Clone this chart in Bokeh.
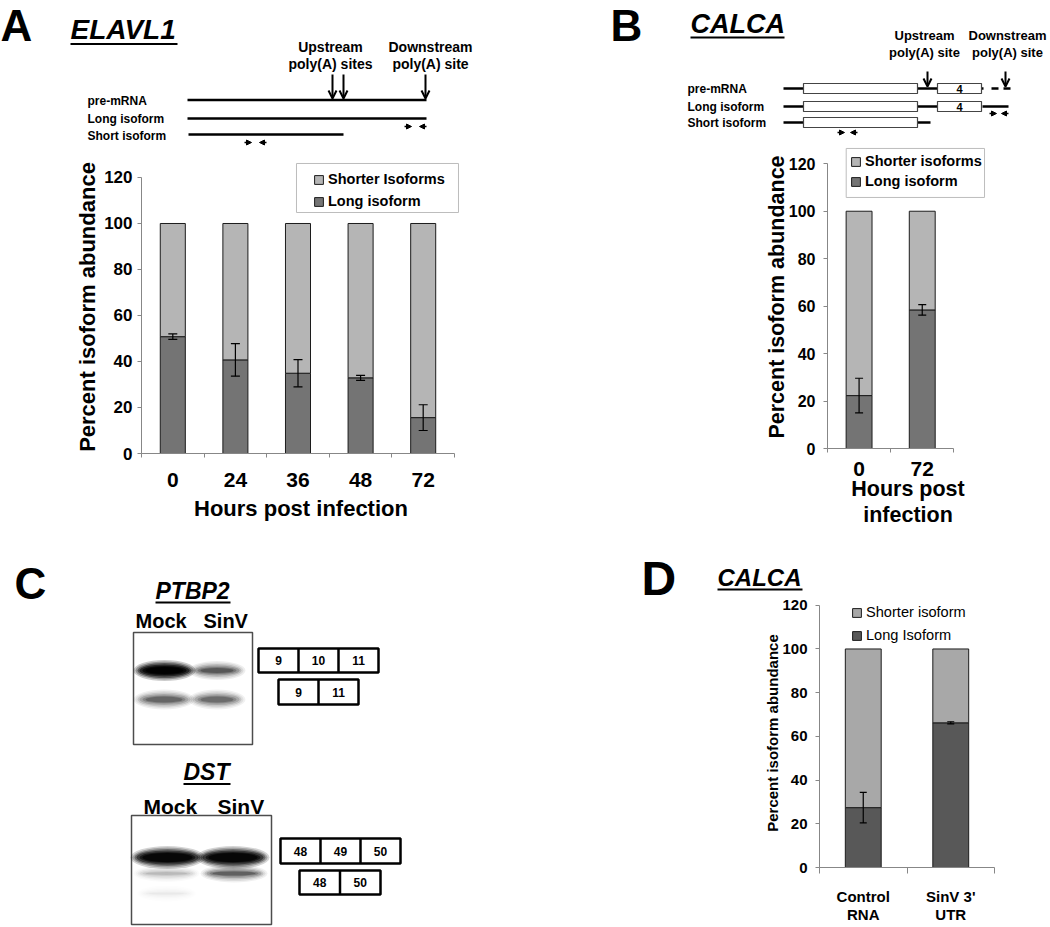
from bokeh.plotting import figure
from bokeh.layouts import row, column
from bokeh.models import (Range1d, FixedTicker, Whisker, TeeHead, Legend, LegendItem,
                          ColumnDataSource, Arrow, OpenHead, NormalHead)
from bokeh.core.properties import value
from bokeh.embed import file_html
from bokeh.resources import INLINE

FONT = "Liberation Sans"

# ---------------- data ----------------
a_hours = ["0", "24", "36", "48", "72"]
a_long = [50.8, 40.7, 34.9, 32.9, 15.6]
a_err = [1.2, 7.1, 5.9, 1.1, 5.6]
a_legend = ["Shorter Isoforms", "Long isoform"]

b_hours = ["0", "72"]
b_long = [22.3, 58.4]
b_err = [7.3, 2.2]
b_legend = ["Shorter isoforms", "Long isoform"]

d_groups = ["Control\nRNA", "SinV 3'\nUTR"]
d_long = [27.4, 66.2]
d_err = [7.0, 0.5]
d_legend = ["Shorter isoform", "Long Isoform"]

y_ticks = [0, 20, 40, 60, 80, 100, 120]
total = 100


# ---------------- helpers ----------------
def canvas(x0, x1, y0, y1):
    p = figure(width=x1 - x0, height=y1 - y0, x_range=Range1d(x0, x1), y_range=Range1d(y1, y0),
               x_axis_type=None, y_axis_type=None, output_backend="svg", toolbar_location=None,
               min_border=0, frame_align=False)
    p.outline_line_color = None
    return p


def txt(p, x, y, s, size, style="bold", align="left", color="black"):
    p.text(x=[x], y=[y], text=[s], text_font=value(FONT), text_font_size=size,
           text_font_style=style, text_align=align, text_baseline="middle", text_color=color)


def hline(p, x0, x1, y, w=2.5, color="black"):
    p.segment(x0=[x0], y0=[y], x1=[x1], y1=[y], line_width=w, line_color=color)


def down_arrow(p, x, y0, y1):
    p.add_layout(Arrow(end=OpenHead(size=8, line_width=2, line_color="black"),
                       x_start=x, y_start=y0, x_end=x, y_end=y1, line_width=2, line_color="black"))


def primers(p, xl, xr, y):
    p.add_layout(Arrow(end=NormalHead(size=5, fill_color="black", line_color="black"),
                       x_start=xl, y_start=y, x_end=xl + 7, y_end=y, line_width=1.3))
    p.add_layout(Arrow(end=NormalHead(size=5, fill_color="black", line_color="black"),
                       x_start=xr, y_start=y, x_end=xr - 7, y_end=y, line_width=1.3))


def exon_boxes(p, x0, x1, y0, y1, labels, size="12px"):
    n = len(labels)
    w = (x1 - x0) / n
    p.quad(left=[x0], right=[x1], top=[y0], bottom=[y1], fill_color="white",
           line_color="black", line_width=2.5)
    for i in range(1, n):
        p.segment(x0=[x0 + i * w], y0=[y0], x1=[x0 + i * w], y1=[y1], line_color="black", line_width=2.5)
    for i, lab in enumerate(labels):
        txt(p, x0 + (i + 0.5) * w, (y0 + y1) / 2, lab, size, align="center")


def band(p, xc, yc, w, h, strength):
    layers = [(14, 10, 0.06), (10, 7, 0.08), (6, 4, 0.12), (2, 1, 0.16), (-4, -2, 0.2), (-10, -4, 0.25)]
    for dw, dh, a in layers:
        p.ellipse(x=[xc], y=[yc], width=w + dw, height=max(h + dh, 2), fill_color="black",
                  fill_alpha=min(a * strength, 1.0), line_color=None)


def bar_chart(width, height, mbl, mbr, mbt, mbb, x_end, y_end, cats, long_vals, errs,
              c_long, c_short, bar_w, legend_labels, legend_loc, legend_spacing,
              tick_font, tick_std, xlab_font, xlab_std, ylabel, ylab_font, ylab_std,
              xlabel=None, xtitle_font=None, xtitle_std=5, legend_font="14.5px",
              legend_style="bold", xtick_out=4, cap=9, box=None, xlab_lh=1.2, xtitle_lh=1.2):
    p = figure(width=width, height=height, x_range=Range1d(0, x_end), y_range=Range1d(0, y_end),
               output_backend="svg", toolbar_location=None, frame_align=False,
               min_border_left=mbl, min_border_right=mbr, min_border_top=mbt, min_border_bottom=mbb)
    p.outline_line_color = None
    p.xgrid.visible = False
    p.ygrid.visible = False
    n = len(cats)
    xs = [i + 0.5 for i in range(n)]
    if box is not None:
        p.quad(left=[box[0]], right=[box[1]], top=[box[2]], bottom=[box[3]],
               fill_color="white", line_color="#bdbdbd", line_width=1)
    src = ColumnDataSource(dict(x=xs, long=long_vals, full=[total] * n,
                                upper=[v + e for v, e in zip(long_vals, errs)],
                                lower=[v - e for v, e in zip(long_vals, errs)]))
    r_long = p.vbar(x="x", bottom=0, top="long", width=bar_w, source=src,
                    fill_color=c_long, line_color="#1c1c1c", line_width=1)
    r_short = p.vbar(x="x", bottom="long", top="full", width=bar_w, source=src,
                     fill_color=c_short, line_color="#1c1c1c", line_width=1)
    wh = Whisker(base="x", upper="upper", lower="lower", source=src, line_color="black", line_width=1.2,
                 upper_head=TeeHead(size=cap, line_color="black", line_width=1.2),
                 lower_head=TeeHead(size=cap, line_color="black", line_width=1.2))
    wh.level = "overlay"
    p.add_layout(wh)

    xa = p.xaxis[0]
    xa.ticker = FixedTicker(ticks=xs, minor_ticks=list(range(n + 1)))
    xa.bounds = (0, n)
    xa.major_label_overrides = {x: c for x, c in zip(xs, cats)}
    xa.major_tick_out = 0
    xa.major_tick_in = 0
    xa.minor_tick_out = xtick_out
    xa.minor_tick_in = 0
    xa.axis_line_color = "#878787"
    xa.minor_tick_line_color = "#878787"
    xa.major_label_text_font = FONT
    xa.major_label_text_font_style = "bold"
    xa.major_label_text_font_size = xlab_font
    xa.major_label_text_color = "black"
    xa.major_label_text_line_height = xlab_lh
    xa.major_label_standoff = xlab_std
    if xlabel:
        xa.axis_label = xlabel
        xa.axis_label_text_font = FONT
        xa.axis_label_text_font_style = "bold"
        xa.axis_label_text_font_size = xtitle_font
        xa.axis_label_text_color = "black"
        xa.axis_label_text_line_height = xtitle_lh
        xa.axis_label_standoff = xtitle_std

    ya = p.yaxis[0]
    ya.ticker = FixedTicker(ticks=y_ticks)
    ya.bounds = (0, 120)
    ya.major_tick_out = 4
    ya.major_tick_in = 0
    ya.minor_tick_out = 0
    ya.minor_tick_in = 0
    ya.axis_line_color = "#878787"
    ya.major_tick_line_color = "#878787"
    ya.major_label_text_font = FONT
    ya.major_label_text_font_style = "bold"
    ya.major_label_text_font_size = tick_font
    ya.major_label_text_color = "black"
    ya.major_label_standoff = tick_std
    ya.axis_label = ylabel
    ya.axis_label_text_font = FONT
    ya.axis_label_text_font_style = "bold"
    ya.axis_label_text_font_size = ylab_font
    ya.axis_label_text_color = "black"
    ya.axis_label_standoff = ylab_std

    leg = Legend(items=[LegendItem(label=legend_labels[0], renderers=[r_short]),
                        LegendItem(label=legend_labels[1], renderers=[r_long])],
                 location=legend_loc, padding=0, margin=0, spacing=legend_spacing,
                 glyph_width=11, glyph_height=11, label_height=11, label_standoff=4,
                 label_text_font=FONT, label_text_font_style=legend_style,
                 label_text_font_size=legend_font, label_text_color="black",
                 border_line_color=None, background_fill_alpha=0)
    p.add_layout(leg)
    return p


# ---------------- panel A ----------------
A_top = canvas(0, 590, 0, 155)
txt(A_top, 0, 24.5, "A", "44px")
txt(A_top, 70, 29, "ELAVL1", "28px", style="bold italic")
hline(A_top, 70, 177, 43.5, w=2.2)
txt(A_top, 330, 46, "Upstream", "14px", align="center")
txt(A_top, 330, 63, "poly(A) sites", "14px", align="center")
txt(A_top, 430, 46, "Downstream", "14px", align="center")
txt(A_top, 430, 63, "poly(A) site", "14px", align="center")
down_arrow(A_top, 332, 74, 98)
down_arrow(A_top, 343, 74, 98)
down_arrow(A_top, 425, 74, 98)
hline(A_top, 187, 426, 99.5)
hline(A_top, 187, 426, 118)
hline(A_top, 188, 343, 134)
txt(A_top, 87, 100, "pre-mRNA", "12px")
txt(A_top, 87, 118, "Long isoform", "12px")
txt(A_top, 87, 135, "Short isoform", "12px")
primers(A_top, 404, 426, 126)
primers(A_top, 244, 266, 142)

A_chart = bar_chart(590, 393, 141, 130, 5, 95, 5.096, 127.39, a_hours, a_long, a_err,
                    "#747474", "#b5b5b5", 0.4, a_legend, (172, 244), 6,
                    "17px", 5, "21px", 15, "Percent isoform abundance", "22px", 1,
                    xlabel="Hours post infection", xtitle_font="22px", xtitle_std=6,
                    box=(2.476, 5.064, 126.09, 104.78))

# ---------------- panel B ----------------
B_top = canvas(590, 1048, 0, 140)
txt(B_top, 610, 24.5, "B", "44px")
txt(B_top, 690, 23, "CALCA", "27px", style="bold italic")
hline(B_top, 690, 784, 37, w=2.2)
txt(B_top, 924, 35, "Upstream", "13px", align="center")
txt(B_top, 924, 52, "poly(A) site", "13px", align="center")
txt(B_top, 1007, 35, "Downstream", "13px", align="center")
txt(B_top, 1007, 52, "poly(A) site", "13px", align="center")
down_arrow(B_top, 927, 71, 86)
down_arrow(B_top, 1005, 71, 86)
for yy in (88, 106, 122):
    hline(B_top, 783, 803, yy)
hline(B_top, 917, 937, 88)
hline(B_top, 980, 983, 88)
hline(B_top, 991, 998, 88)
hline(B_top, 1003, 1010, 88)
hline(B_top, 917, 937, 106)
hline(B_top, 982, 1008, 106)
hline(B_top, 917, 930, 122)
for yy in (88, 106, 122):
    B_top.quad(left=[803], right=[917], top=[yy - 5], bottom=[yy + 5], fill_color="white",
               line_color="#444444", line_width=1.2)
for yy in (88, 106):
    B_top.quad(left=[937], right=[981], top=[yy - 5], bottom=[yy + 5], fill_color="white",
               line_color="#444444", line_width=1.2)
    txt(B_top, 959, yy, "4", "11px", align="center")
txt(B_top, 687, 88, "pre-mRNA", "12px")
txt(B_top, 687, 106, "Long isoform", "12px")
txt(B_top, 687, 122, "Short isoform", "12px")
primers(B_top, 989, 1008, 113)
primers(B_top, 837, 857, 132)

B_chart = bar_chart(458, 408, 237, 60, 5, 100, 2.549, 127.7, b_hours, b_long, b_err,
                    "#747474", "#b5b5b5", 0.41, b_legend, (23, 259), 4,
                    "16px", 8, "21px", 9, "Percent isoform abundance", "21.5px", -3,
                    xlabel="Hours post\ninfection", xtitle_font="21.5px", xtitle_std=-2,
                    xtitle_lh=1.12, cap=8, box=(0.296, 2.486, 126.45, 105.8))

# ---------------- panel C (and the D letter, which sits in the same strip) ----------------
C = canvas(0, 700, 548, 926)
txt(C, 14, 582.5, "C", "44px")
txt(C, 155, 590, "PTBP2", "23px", style="bold italic")
hline(C, 155, 230, 602, w=2)
txt(C, 135, 620, "Mock", "20px")
txt(C, 203, 620, "SinV", "20px")
C.quad(left=[133], right=[252], top=[632], bottom=[744], fill_color="white", line_color="#4d4d4d", line_width=1.5)
band(C, 164, 670, 48, 11, 3.4)
band(C, 216.5, 670, 43, 9, 1.1)
band(C, 163.5, 699, 47, 10, 0.95)
band(C, 216.5, 699, 43, 10, 0.9)
exon_boxes(C, 258, 378, 648, 672, ["9", "10", "11"])
exon_boxes(C, 278, 358, 679, 704, ["9", "11"])

txt(C, 183, 771.5, "DST", "23px", style="bold italic")
hline(C, 183, 230, 783.5, w=2)
txt(C, 143, 805.5, "Mock", "21px")
txt(C, 217, 805.5, "SinV", "21px")
C.quad(left=[131], right=[271], top=[815], bottom=[924], fill_color="white", line_color="#4d4d4d", line_width=1.5)
band(C, 167, 857, 60, 13, 2.8)
band(C, 232.5, 857, 59, 13, 2.8)
band(C, 166, 873, 52, 7, 0.35)
band(C, 233.5, 873, 53, 8, 1.0)
band(C, 166, 893, 45, 6, 0.1)
exon_boxes(C, 280, 400, 838, 863, ["48", "49", "50"])
exon_boxes(C, 299, 380, 870, 894, ["48", "50"])

txt(C, 641, 577.5, "D", "48px")

# ---------------- panel D ----------------
D_top = canvas(700, 1048, 548, 596)
txt(D_top, 717, 576.5, "CALCA", "24px", style="bold italic")
hline(D_top, 717, 802, 589, w=2)

D_chart = bar_chart(348, 330, 119, 54, 2, 50, 2.0, 123.1, d_groups, d_long, d_err,
                    "#585858", "#a8a8a8", 0.41, d_legend, (32, 224), 7,
                    "15px", 8, "15px", 14, "Percent isoform abundance", "15px", -2,
                    legend_font="14.6px", legend_style="normal", xtick_out=6, cap=7, xlab_lh=1.1)

layout = column(row(column(A_top, A_chart), column(B_top, B_chart)),
                row(C, column(D_top, D_chart)))
open("out.html", "w").write(file_html(layout, INLINE))
